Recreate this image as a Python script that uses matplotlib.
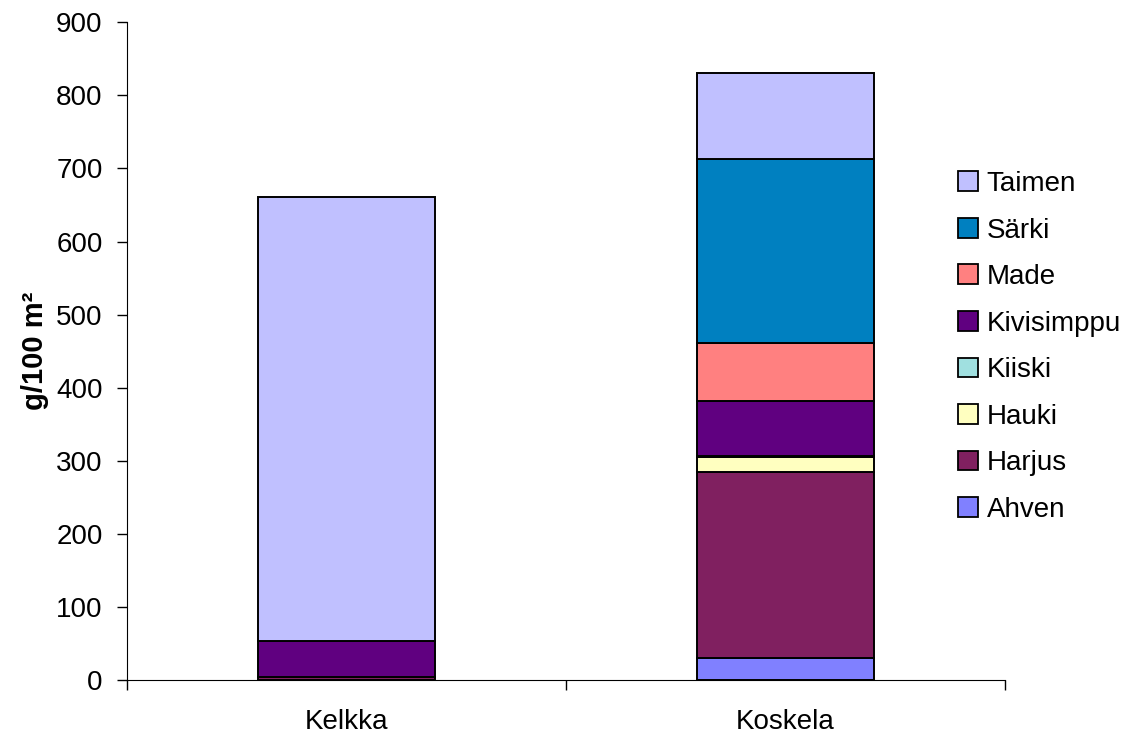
import numpy as np
import matplotlib
matplotlib.use('Agg')
import matplotlib.pyplot as plt
from matplotlib.patches import Patch

plt.rcParams['font.family'] = ['Liberation Sans', 'DejaVu Sans']

# data (g/100 m2)
sites = ['Kelkka', 'Koskela']
species = ['Ahven', 'Harjus', 'Hauki', 'Kiiski', 'Kivisimppu', 'Made', 'Särki', 'Taimen']
ahven = [0, 30]
harjus = [4, 254]
hauki = [0, 21]
kiiski = [0, 2]
kivisimppu = [50, 75]
made = [0, 79]
sarki = [0, 252]
taimen = [607, 118]
values = [ahven, harjus, hauki, kiiski, kivisimppu, made, sarki, taimen]
colors = ['#8080FF', '#802060', '#FFFFC0', '#A0E0E0', '#600080', '#FF8080', '#0080C0', '#C0C0FF']

fig = plt.figure(figsize=(11.35, 7.40), dpi=100)
ax = fig.add_axes([0.1119, 0.0811, 0.7736, 0.8888])

x = np.arange(len(sites))
bottom = np.zeros(len(sites))
for name, vals, col in zip(species, values, colors):
    vals = np.array(vals, dtype=float)
    ax.bar(x, vals, bottom=bottom, width=0.405, color=col, edgecolor='black',
           linewidth=1.4, label=name)
    bottom += vals

ax.set_xlim(-0.5, 1.5)
ax.set_ylim(0, 900)
ax.set_yticks(np.arange(0, 901, 100))
ax.set_xticks(x)
ax.set_xticklabels(sites)
ax.set_xticks([-0.5, 0.5, 1.5], minor=True)
ax.tick_params(axis='x', which='major', length=0, labelsize=20, pad=21)
ax.tick_params(axis='x', which='minor', length=7, width=1, direction='out')
ax.tick_params(axis='y', length=7.5, width=1, direction='out', labelsize=20, pad=10)
for s in ['top', 'right']:
    ax.spines[s].set_visible(False)
ax.set_ylabel('g/100 m²', fontsize=21, fontweight='bold', labelpad=5)

handles = [Patch(facecolor=c, edgecolor='black', linewidth=1.3, label=n)
           for n, c in zip(species, colors)]
fig.legend(handles[::-1], species[::-1], loc='upper left',
           bbox_to_anchor=(0.834, 0.784), frameon=False, fontsize=20,
           handlelength=0.72, handleheight=0.72, handletextpad=0.32,
           labelspacing=0.74, borderaxespad=0)

fig.savefig('out.png', dpi=100)
